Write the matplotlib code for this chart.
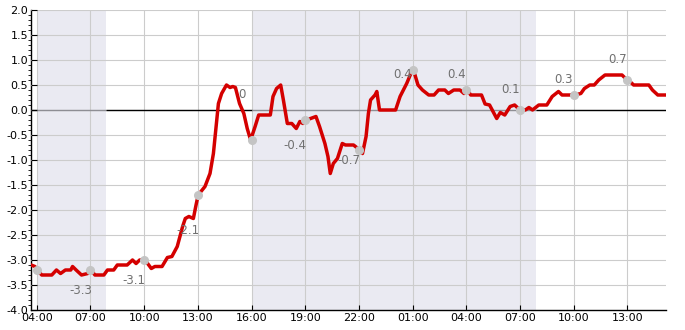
import matplotlib
matplotlib.use("Agg")
import matplotlib.pyplot as plt
from matplotlib.ticker import MultipleLocator

# hours after 04:00 on day one, and the value
hours = [-0.32, -0.1, 0.03, 0.28, 0.84, 1.1, 1.33, 1.6, 1.9, 2.0, 2.2, 2.5, 2.85,
         3.03, 3.25, 3.75, 3.95, 4.3, 4.5, 5.05, 5.35, 5.55, 5.75, 6.05, 6.4, 6.6,
         7.0, 7.3, 7.55, 7.85, 8.15, 8.3, 8.5, 8.75, 8.9, 9.02, 9.4, 9.68, 9.87,
         10.0, 10.15, 10.33, 10.6, 10.8, 10.95, 11.1, 11.33, 11.57, 11.76, 11.95,
         12.2, 12.4, 13.05, 13.2, 13.4, 13.63, 13.78, 14.0, 14.25, 14.5, 14.7,
         14.87, 15.05, 15.3, 15.6, 15.8, 16.1, 16.27, 16.4, 16.57, 16.8, 17.07,
         17.25, 17.7, 18.05, 18.2, 18.4, 18.53, 18.65, 18.9, 19.0, 19.15, 20.05,
         20.3, 20.67, 20.95, 21.05, 21.3, 21.55, 21.9, 22.2, 22.45, 22.8, 23.0,
         23.3, 23.65, 23.87, 24.05, 24.25, 24.85, 25.05, 25.3, 25.7, 25.9, 26.15,
         26.45, 26.7, 27.0, 27.3, 27.5, 27.7, 28.05, 28.5, 28.8, 29.15, 29.35,
         30.05, 30.4, 30.6, 30.9, 31.15, 31.4, 31.75, 32.7, 32.9, 33.05, 33.35,
         34.2, 34.4, 34.7, 35.16]
values = [-3.1, -3.13, -3.2, -3.3, -3.3, -3.2, -3.27, -3.2, -3.2, -3.13, -3.2, -3.3,
          -3.27, -3.2, -3.3, -3.3, -3.2, -3.2, -3.1, -3.1, -3.0, -3.07, -3.0, -3.0,
          -3.17, -3.13, -3.13, -2.95, -2.93, -2.73, -2.33, -2.17, -2.13, -2.17, -1.9,
          -1.7, -1.53, -1.27, -0.87, -0.4, 0.13, 0.33, 0.5, 0.45, 0.47, 0.45, 0.13,
          -0.07, -0.37, -0.6, -0.33, -0.1, -0.1, 0.27, 0.43, 0.5, 0.2, -0.27, -0.27,
          -0.37, -0.23, -0.27, -0.2, -0.17, -0.13, -0.33, -0.67, -0.93, -1.27, -1.07,
          -0.97, -0.67, -0.7, -0.7, -0.8, -0.87, -0.53, -0.07, 0.2, 0.3, 0.37, 0.0,
          0.0, 0.27, 0.53, 0.77, 0.8, 0.5, 0.4, 0.3, 0.3, 0.4, 0.4, 0.33, 0.4, 0.4,
          0.33, 0.4, 0.3, 0.3, 0.12, 0.1, -0.17, -0.05, -0.1, 0.07, 0.1, 0.0, 0.0,
          0.05, 0.0, 0.1, 0.1, 0.27, 0.37, 0.3, 0.3, 0.33, 0.43, 0.5, 0.5, 0.6, 0.7,
          0.7, 0.63, 0.6, 0.5, 0.5, 0.4, 0.3, 0.3]

# marked points every three hours and their labels
mark_hours = [0, 3, 6, 9, 12, 15, 18, 21, 24, 27, 30, 33]
mark_values = [-3.2, -3.2, -3.0, -1.7, -0.6, -0.2, -0.8, 0.8, 0.4, 0.0, 0.3, 0.6]
mark_labels = [None, -3.3, -3.1, -2.1, 0, -0.4, -0.7, 0.4, 0.4, 0.1, 0.3, 0.7]

tick_labels = ["04:00", "07:00", "10:00", "13:00", "16:00", "19:00", "22:00",
               "01:00", "04:00", "07:00", "10:00", "13:00"]

# shaded periods (hours after 04:00)
shade_spans = [(0, 3.87), (12, 27.87)]

x_lo, x_hi = -0.32, 35.16

fig = plt.figure(figsize=(6.85, 3.3), dpi=100)
ax = fig.add_axes([0.0453, 0.0606, 0.9270, 0.9091])
ax.set_axisbelow(False)

for s, e in shade_spans:
    ax.axvspan(s, e, color="#eaeaf2", lw=0, zorder=1.5)

# zero line: black on white background, grey inside the shaded periods
edges = [x_lo]
for s, e in shade_spans:
    edges += [s, e]
edges.append(x_hi)
for i in range(len(edges) - 1):
    col = "#8e8e94" if i % 2 == 1 else "black"
    ax.plot([edges[i], edges[i + 1]], [0, 0], color=col, lw=1.0, zorder=2.7,
            solid_capstyle="butt")

ax.plot(hours, values, color="#d40000", lw=2.5, zorder=3,
        solid_joinstyle="round", solid_capstyle="round")
ax.plot(mark_hours, mark_values, "o", color="#c4c4c4", ms=5.5, zorder=4)
for h, lab in zip(mark_hours, mark_labels):
    if lab is None:
        continue
    ly = lab + 0.3 if lab >= 0 else lab - 0.3
    ax.text(h - 0.55, ly, f"{lab:g}", ha="center", va="center",
            fontsize=8.5, color="#707070", zorder=5)

ax.set_xlim(x_lo, x_hi)
ax.set_ylim(-4, 2)
ax.set_xticks(mark_hours)
ax.set_xticklabels(tick_labels)
ax.yaxis.set_major_locator(MultipleLocator(0.5))
ax.yaxis.set_minor_locator(MultipleLocator(0.1))
ax.yaxis.set_major_formatter(plt.FuncFormatter(lambda y, _: f"{y:.1f}"))
ax.tick_params(axis="both", direction="in", labelsize=8, pad=2)
ax.tick_params(axis="y", which="major", length=4, width=0.8)
ax.tick_params(axis="y", which="minor", length=2.2, width=0.6)
ax.tick_params(axis="x", length=3.5, width=0.8)
ax.grid(True, color="#cccccc", lw=0.8)

for side in ["top", "right"]:
    ax.spines[side].set_visible(False)
for side in ["left", "bottom"]:
    ax.spines[side].set_linewidth(1.0)

fig.savefig("out.png", dpi=100)
